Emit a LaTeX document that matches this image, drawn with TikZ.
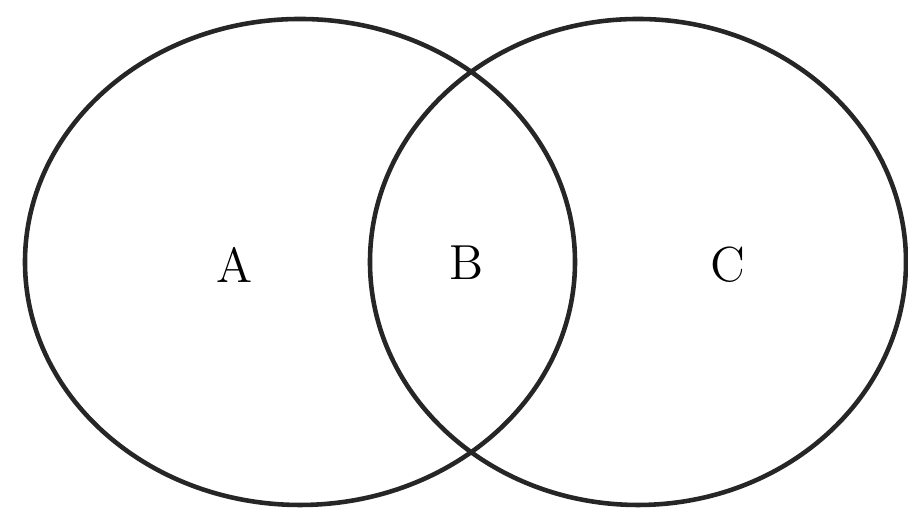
\documentclass[tikz,border=0pt]{standalone}
\usepackage{tikz}
\usetikzlibrary{positioning}
\tikzset{setline/.style={line width=1.3pt,black!85},setlabel/.style={inner sep=0pt,font=\fontsize{14}{16}\selectfont}}

\begin{document}
\begin{tikzpicture}
\useasboundingbox (0,0) rectangle (9.08,5.09);
\draw[setline] (3.00,2.47) ellipse [x radius=2.75,y radius=2.43];
\draw[setline] (6.38,2.47) ellipse [x radius=2.68,y radius=2.43];
\node[setlabel] (regA) at (2.35,2.44) {A};
\node[setlabel] (regB) at (4.67,2.46) {B};
\node[setlabel] (regC) at (7.28,2.44) {C};
\end{tikzpicture}
\end{document}
